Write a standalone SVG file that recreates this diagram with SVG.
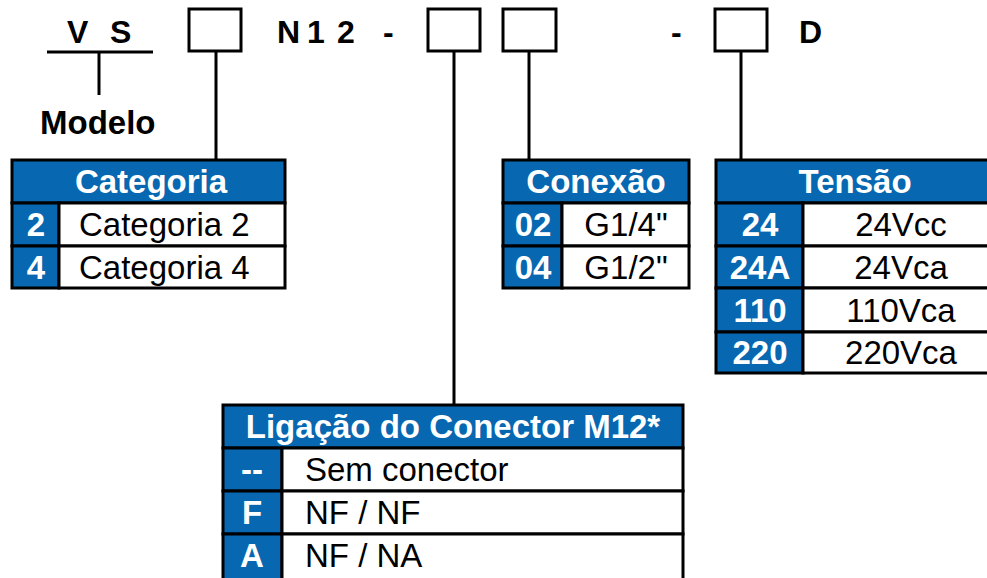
<svg xmlns="http://www.w3.org/2000/svg" width="987" height="578" viewBox="0 0 987 578">
<style>
.t{font-family:"Liberation Sans",Arial,sans-serif;font-size:33px;fill:#000}
.b{font-weight:bold}
.w{fill:#fff;font-weight:bold}
.m{text-anchor:middle}
.box{fill:#fff;stroke:#000;stroke-width:3}
.hd{fill:#0767b1;stroke:#000;stroke-width:3}
.cell{fill:#fff;stroke:#000;stroke-width:3}
.ln{stroke:#000;stroke-width:3;fill:none}
.top{font-family:"Liberation Sans",Arial,sans-serif;font-size:32px;font-weight:bold;fill:#000}
</style>
<rect width="987" height="578" fill="#fff"/>
<g id="code">
<text class="top" x="67" y="43">V</text>
<text class="top" x="110" y="43">S</text>
<text class="top" x="277" y="43">N</text>
<text class="top" x="307" y="43">1</text>
<text class="top" x="337" y="43">2</text>
<text class="top" x="383" y="43">-</text>
<text class="top" x="671" y="43">-</text>
<text class="top" x="799" y="43">D</text>
<rect class="box" x="189" y="9" width="52" height="42"/>
<rect class="box" x="428" y="9" width="52" height="42"/>
<rect class="box" x="503" y="9" width="53" height="42"/>
<rect class="box" x="715" y="9" width="52" height="42"/>
</g>
<g id="modelo">
<text class="top" x="40" y="134" style="font-size:33px">Modelo</text>
</g>
<g id="connectors">
<line class="ln" x1="47" y1="52" x2="153" y2="52"/>
<line class="ln" x1="99" y1="52" x2="99" y2="95"/>
<line class="ln" x1="216" y1="51" x2="216" y2="160"/>
<line class="ln" x1="454" y1="51" x2="454" y2="405"/>
<line class="ln" x1="529" y1="51" x2="529" y2="160"/>
<line class="ln" x1="741" y1="51" x2="741" y2="160"/>
</g>
<g id="categoria">
<rect class="hd" x="12" y="160" width="273" height="43"/>
<rect class="hd" x="12" y="203" width="47" height="43"/>
<rect class="hd" x="12" y="246" width="47" height="42"/>
<rect class="cell" x="59" y="203" width="226" height="43"/>
<rect class="cell" x="59" y="246" width="226" height="42"/>
<text class="t w m" x="151" y="193">Categoria</text>
<text class="t w m" x="36" y="236">2</text>
<text class="t w m" x="36" y="279">4</text>
<text class="t" x="79" y="236">Categoria 2</text>
<text class="t" x="79" y="279">Categoria 4</text>
</g>
<g id="conexao">
<rect class="hd" x="503" y="160" width="186" height="43"/>
<rect class="hd" x="503" y="203" width="59" height="43"/>
<rect class="hd" x="503" y="246" width="59" height="42"/>
<rect class="cell" x="562" y="203" width="127" height="43"/>
<rect class="cell" x="562" y="246" width="127" height="42"/>
<text class="t w m" x="596" y="193">Conexão</text>
<text class="t w m" x="533" y="236">02</text>
<text class="t w m" x="533" y="279">04</text>
<text class="t m" x="626" y="236">G1/4"</text>
<text class="t m" x="626" y="279">G1/2"</text>
</g>
<g id="tensao">
<rect class="hd" x="716" y="160" width="280" height="43"/>
<rect class="hd" x="716" y="203" width="87" height="43"/>
<rect class="hd" x="716" y="246" width="87" height="42"/>
<rect class="hd" x="716" y="288" width="87" height="44"/>
<rect class="hd" x="716" y="332" width="87" height="41"/>
<rect class="cell" x="803" y="203" width="193" height="43"/>
<rect class="cell" x="803" y="246" width="193" height="42"/>
<rect class="cell" x="803" y="288" width="193" height="44"/>
<rect class="cell" x="803" y="332" width="193" height="41"/>
<text class="t w m" x="855" y="193">Tensão</text>
<text class="t w m" x="760" y="236">24</text>
<text class="t w m" x="760" y="279">24A</text>
<text class="t w m" x="760" y="322">110</text>
<text class="t w m" x="760" y="364">220</text>
<text class="t m" x="901" y="236">24Vcc</text>
<text class="t m" x="901" y="279">24Vca</text>
<text class="t m" x="901" y="322">110Vca</text>
<text class="t m" x="901" y="364">220Vca</text>
</g>
<g id="ligacao">
<rect class="hd" x="223" y="405" width="460" height="43"/>
<rect class="hd" x="223" y="448" width="59" height="43"/>
<rect class="hd" x="223" y="491" width="59" height="43"/>
<rect class="hd" x="223" y="534" width="59" height="46"/>
<rect class="cell" x="282" y="448" width="401" height="43"/>
<rect class="cell" x="282" y="491" width="401" height="43"/>
<rect class="cell" x="282" y="534" width="401" height="46"/>
<text class="t w m" x="453" y="438">Ligação do Conector M12*</text>
<text class="t w m" x="252" y="481">--</text>
<text class="t w m" x="252" y="524">F</text>
<text class="t w m" x="252" y="567">A</text>
<text class="t" x="305" y="481">Sem conector</text>
<text class="t" x="305" y="524">NF / NF</text>
<text class="t" x="305" y="567">NF / NA</text>
</g>
</svg>
